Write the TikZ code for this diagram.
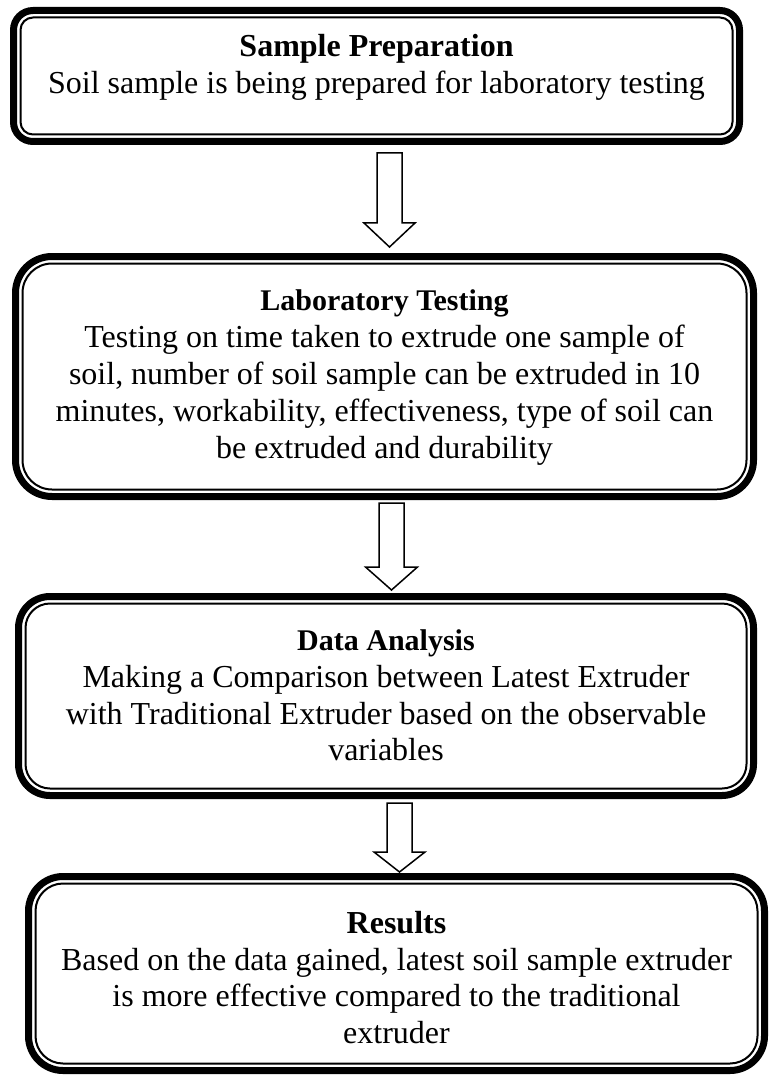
\documentclass[tikz,border=0pt]{standalone}
\usepackage{fontspec}
\setmainfont{Liberation Serif}
\usetikzlibrary{calc}

\begin{document}
\begin{tikzpicture}[x=1pt,y=-1pt,
    frame/.style={draw, line width=7pt, inner sep=0pt, outer sep=0pt},
    innerline/.style={line width=2pt},
    stagetext/.style={align=center, inner sep=0pt, font=\fontsize{32}{36.8}\selectfont},
    hollow/.style={draw, line width=1.5pt, fill=white, line join=miter}]

    \useasboundingbox (0,0) rectangle (768,1075);

    % -- Sample Preparation --
    \node[frame, rounded corners=19.5pt, minimum width=726pt, minimum height=131pt] (prep) at (376.5,76) {};
    \draw[innerline, rounded corners=12.5pt] ([shift={(7pt,-7pt)}]prep.north west) rectangle ([shift={(-7pt,7pt)}]prep.south east);
    \node[stagetext] (prep-text) at (376.5,67) {\textbf{Sample Preparation}\\Soil sample is being prepared for laboratory testing};

    % -- Laboratory Testing --
    \node[frame, rounded corners=36.5pt, minimum width=738pt, minimum height=240pt] (lab) at (384.5,376.5) {};
    \draw[innerline, rounded corners=29.5pt] ([shift={(7pt,-7pt)}]lab.north west) rectangle ([shift={(-7pt,7pt)}]lab.south east);
    \node[stagetext] (lab-text) at (384.5,377.5) {\textbf{\fontsize{30}{36.8}\selectfont Laboratory Testing}\\Testing on time taken to extrude one sample of\\soil, number of soil sample can be extruded in 10\\minutes, workability, effectiveness, type of soil can\\be extruded and durability};

    % -- Data Analysis --
    \node[frame, rounded corners=31.5pt, minimum width=735pt, minimum height=199pt] (data) at (386,696) {};
    \draw[innerline, rounded corners=24.5pt] ([shift={(7pt,-7pt)}]data.north west) rectangle ([shift={(-7pt,7pt)}]data.south east);
    \node[stagetext] (data-text) at (386,695.5) {\textbf{\fontsize{30}{36.8}\selectfont Data Analysis}\\Making a Comparison between Latest Extruder\\with Traditional Extruder based on the observable\\variables};

    % -- Results --
    \node[frame, rounded corners=34.5pt, minimum width=736pt, minimum height=194pt] (res) at (396.5,973.5) {};
    \draw[innerline, rounded corners=27.5pt] ([shift={(7pt,-7pt)}]res.north west) rectangle ([shift={(-7pt,7pt)}]res.south east);
    \node[stagetext] (res-text) at (396.5,977.5) {\textbf{Results}\\Based on the data gained, latest soil sample extruder\\is more effective compared to the traditional\\extruder};

    % -- Arrows (hollow) --
    \coordinate (a1-top) at ($(prep.south -| lab.north)+(5pt,-11.5pt)$);
    \coordinate (a1-tip) at ($(lab.north)+(5pt,9.5pt)$);
    \draw[hollow] ($(a1-top)+(-12.5pt,0)$) -- ($(a1-tip)+(-12.5pt,24pt)$) -- ++(-13pt,0) -- (a1-tip)
        -- ($(a1-tip)+(25.5pt,24pt)$) -- ++(-13pt,0) -- ($(a1-top)+(12.5pt,0)$) -- cycle;

    \coordinate (a2-top) at ($(lab.south -| data.north)+(5.5pt,-6.5pt)$);
    \coordinate (a2-tip) at ($(data.north)+(5.5pt,6.5pt)$);
    \draw[hollow] ($(a2-top)+(-12.5pt,0)$) -- ($(a2-tip)+(-12.5pt,23pt)$) -- ++(-13.5pt,0) -- (a2-tip)
        -- ($(a2-tip)+(26pt,23pt)$) -- ++(-13.5pt,0) -- ($(a2-top)+(12.5pt,0)$) -- cycle;

    \coordinate (a3-top) at ($(data.south -| res.north)+(3pt,-7.5pt)$);
    \coordinate (a3-tip) at ($(res.north)+(3pt,4.5pt)$);
    \draw[hollow] ($(a3-top)+(-12.5pt,0)$) -- ($(a3-tip)+(-12.5pt,20pt)$) -- ++(-13pt,0) -- (a3-tip)
        -- ($(a3-tip)+(25.5pt,20pt)$) -- ++(-13pt,0) -- ($(a3-top)+(12.5pt,0)$) -- cycle;
\end{tikzpicture}
\end{document}
